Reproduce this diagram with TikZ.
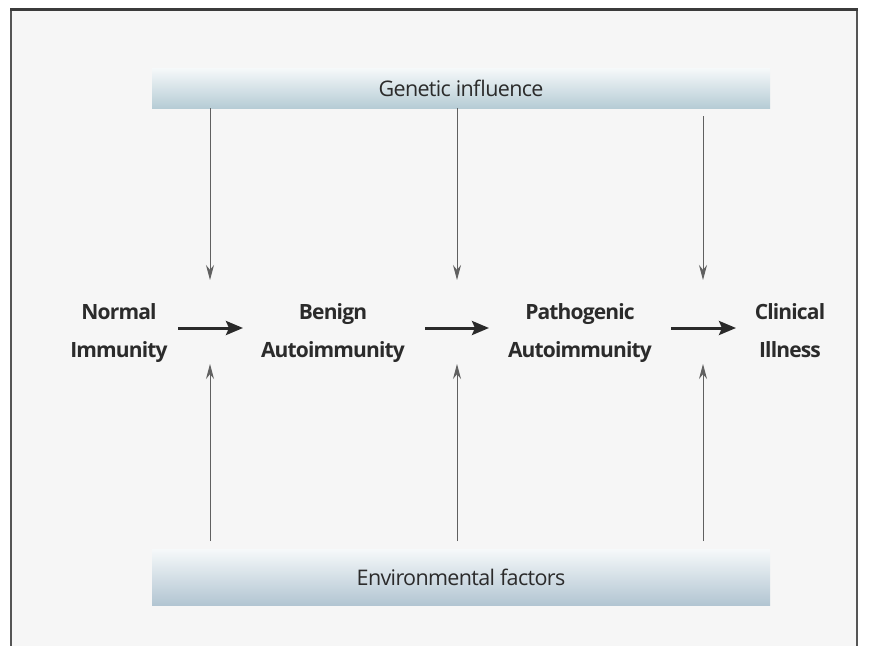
\documentclass[tikz,border=0pt]{standalone}
\usepackage{fontspec}
\setmainfont{Open Sans}
\usetikzlibrary{arrows.meta}
\definecolor{bgin}{HTML}{F6F6F6}
\definecolor{frame}{HTML}{555555}
\definecolor{bartop}{HTML}{F6F9FA}
\definecolor{barbot}{HTML}{B6CCD5}
\definecolor{barbotB}{HTML}{B2C5D2}
\definecolor{thin}{HTML}{606060}
\definecolor{thick}{HTML}{2A2A2A}
\definecolor{txt}{HTML}{2B2B2B}
\tikzset{
  bar/.style={minimum width=618pt, inner sep=0pt, top color=bartop, draw=none, text=txt, font=\fontsize{21.5}{24}\selectfont\addfontfeatures{LetterSpace=-3}},
  stage/.style={align=center, text=txt, font=\fontsize{21}{38}\selectfont\bfseries\addfontfeatures{LetterSpace=-4}},
  thinarrow/.style={draw=thin, line width=0.9pt, -{Stealth[length=15pt,width=8pt]}},
  thickarrow/.style={draw=thick, line width=3pt, -{Stealth[length=17pt,width=14pt,inset=3pt]}}
}
\begin{document}
\begin{tikzpicture}[x=1pt,y=-1pt]
\useasboundingbox (0,0) rectangle (877,645);
\fill[white] (0,0) rectangle (877,645);
\filldraw[fill=bgin, draw=frame, line width=2pt] (11,9) -- (11,652) -- (857,652) -- (857,9) -- cycle;
\draw[frame!70!black, line width=3pt] (10,9) -- (858,9);
% bars
\node[bar, bottom color=barbot, minimum height=40pt] (gen) at (461,88) {Genetic influence};
\node[bar, bottom color=barbotB, minimum height=56pt] (env) at (461,577) {Environmental factors};
% stages
\node[stage] (n) at (119,331) {Normal\strut\\Immunity\strut};
\node[stage] (b) at (333,331) {Benign\strut\\Autoimmunity\strut};
\node[stage] (p) at (580,331) {Pathogenic\strut\\Autoimmunity\strut};
\node[stage] (c) at (790,331) {Clinical\strut\\Illness\strut};
% junction coordinates
\coordinate (j1t) at (210,280); \coordinate (j1b) at (210,364);
\coordinate (j2t) at (457,280); \coordinate (j2b) at (457,364);
\coordinate (j3t) at (703,280); \coordinate (j3b) at (703,364);
\coordinate (g1) at (210,108); \coordinate (g2) at (457,108); \coordinate (g3) at (703,116);
\coordinate (e1) at (210,541); \coordinate (e2) at (457,541); \coordinate (e3) at (703,541);
\draw[thinarrow] (g1) -- (j1t);
\draw[thinarrow] (g2) -- (j2t);
\draw[thinarrow] (g3) -- (j3t);
\draw[thinarrow] (e1) -- (j1b);
\draw[thinarrow] (e2) -- (j2b);
\draw[thinarrow] (e3) -- (j3b);
% horizontal
\coordinate (h1a) at (178,328); \coordinate (h1b) at (243,328);
\coordinate (h2a) at (425,328); \coordinate (h2b) at (489,328);
\coordinate (h3a) at (671,328); \coordinate (h3b) at (736,328);
\draw[thickarrow] (h1a) -- (h1b);
\draw[thickarrow] (h2a) -- (h2b);
\draw[thickarrow] (h3a) -- (h3b);
\end{tikzpicture}
\end{document}
